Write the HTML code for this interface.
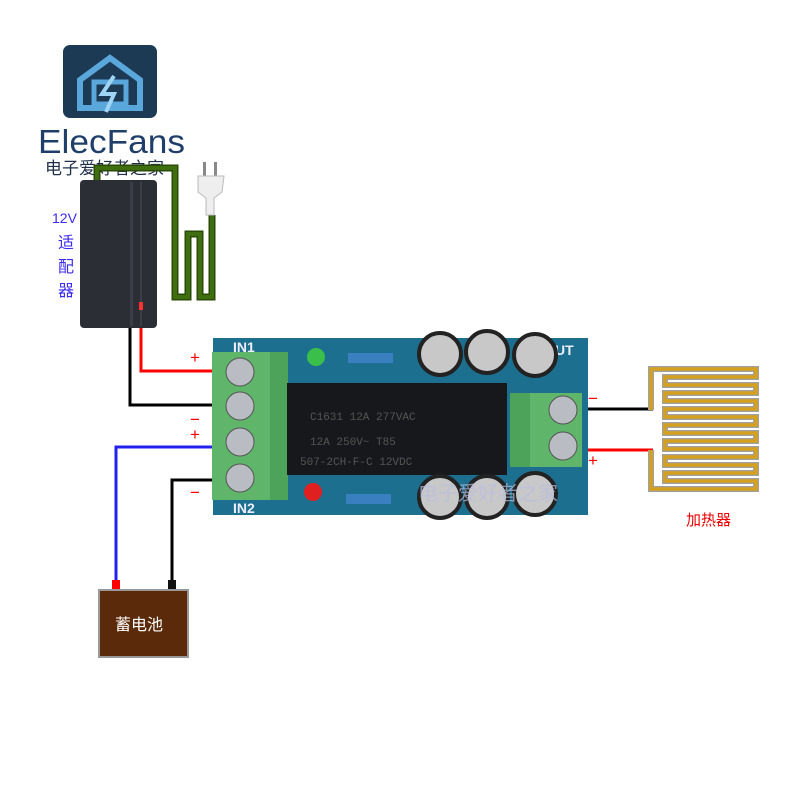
<!DOCTYPE html>
<html><head><meta charset="utf-8"><style>body{margin:0;background:#fff}svg{display:block}</style></head><body>
<svg width="800" height="800" xmlns="http://www.w3.org/2000/svg" font-family="Liberation Sans, Noto Sans CJK SC, sans-serif">
<rect width="800" height="800" fill="#fff"/>
<!-- logo -->
<rect x="63" y="45" width="94" height="73" rx="7" fill="#1d3a55"/>
<path d="M110 58 L140 80 L140 108 L80 108 L80 80 Z" fill="none" stroke="#5aa7dc" stroke-width="6"/>
<rect x="94" y="82" width="32" height="22" fill="none" stroke="#5aa7dc" stroke-width="5"/>
<path d="M114 76 L102 94 L114 94 L106 112" fill="none" stroke="#9fd4f5" stroke-width="4"/>
<text x="38" y="153" font-size="33" fill="#1f3f6a" textLength="147" lengthAdjust="spacingAndGlyphs">ElecFans</text>
<text x="45" y="174" font-size="17" fill="#1f2f4a">电子爱好者之家</text>
<!-- cord -->
<path d="M97 182 V168 H175 V297 H188 V234 H200 V297 H212 V215" fill="none" stroke="#2a4a08" stroke-width="7"/>
<path d="M97 182 V168 H175 V297 H188 V234 H200 V297 H212 V215" fill="none" stroke="#3e6e10" stroke-width="4"/>
<!-- plug -->
<rect x="203" y="162" width="3" height="16" fill="#888"/><rect x="214" y="162" width="3" height="16" fill="#888"/>
<path d="M198 176 H224 L222 192 L214 198 V215 H206 V198 L198 192 Z" fill="#eee" stroke="#bbb"/>
<!-- adapter -->
<rect x="80" y="180" width="77" height="148" rx="4" fill="#2b2e35"/>
<rect x="130" y="182" width="3" height="144" fill="#3a3e46"/><rect x="140" y="182" width="2" height="144" fill="#3a3e46"/>
<rect x="139" y="302" width="4" height="8" fill="#ff3030"/>
<text x="52" y="223" font-size="14" fill="#3a2aef">12V</text>
<text x="58" y="248" font-size="16" fill="#3a2aef">适</text>
<text x="58" y="272" font-size="16" fill="#3a2aef">配</text>
<text x="58" y="296" font-size="16" fill="#3a2aef">器</text>
<!-- wires -->
<path d="M141 328 V371 H214" fill="none" stroke="#f00" stroke-width="3"/>
<path d="M130 328 V405 H214" fill="none" stroke="#000" stroke-width="3"/>
<path d="M214 447 H116 V583" fill="none" stroke="#2222ee" stroke-width="3"/>
<path d="M214 480 H172 V583" fill="none" stroke="#000" stroke-width="3"/>
<path d="M580 409 H653" stroke="#000" stroke-width="3"/>
<path d="M580 450 H653" stroke="#f00" stroke-width="3"/>
<text x="190" y="363" font-size="17" fill="#f00">+</text>
<text x="190" y="425" font-size="17" fill="#f00">−</text>
<text x="190" y="440" font-size="17" fill="#f00">+</text>
<text x="190" y="498" font-size="17" fill="#f00">−</text>
<text x="588" y="404" font-size="17" fill="#f00">−</text>
<text x="588" y="466" font-size="17" fill="#f00">+</text>
<!-- battery -->
<rect x="112" y="580" width="8" height="10" fill="#f00"/><rect x="168" y="580" width="8" height="10" fill="#111"/>
<rect x="99" y="590" width="89" height="67" fill="#5b2a0b" stroke="#999" stroke-width="2"/>
<text x="115" y="630" font-size="16" fill="#fff">蓄电池</text>
<!-- board -->
<rect x="213" y="338" width="375" height="177" fill="#1c6f8e"/>
<text x="233" y="352" font-size="14" fill="#eef" font-weight="bold">IN1</text>
<text x="233" y="513" font-size="14" fill="#eef" font-weight="bold">IN2</text>
<text x="555" y="355" font-size="14" fill="#eef" font-weight="bold">UT</text>
<rect x="212" y="352" width="76" height="148" fill="#5fb56a"/>
<rect x="270" y="352" width="18" height="148" fill="#4ea35a"/>
<rect x="510" y="393" width="72" height="74" fill="#5fb56a"/>
<rect x="510" y="393" width="20" height="74" fill="#4ea35a"/>
<g fill="#b9bcc2" stroke="#555"><circle cx="240" cy="372" r="14"/><circle cx="240" cy="406" r="14"/><circle cx="240" cy="442" r="14"/><circle cx="240" cy="478" r="14"/><circle cx="563" cy="410" r="14"/><circle cx="563" cy="446" r="14"/></g>
<circle cx="316" cy="357" r="9" fill="#3ac04a"/><circle cx="313" cy="492" r="9" fill="#e02020"/>
<rect x="348" y="353" width="45" height="10" fill="#3a80c0"/><rect x="346" y="494" width="45" height="10" fill="#3a80c0"/>
<rect x="287" y="383" width="220" height="92" fill="#16181c"/>
<g font-size="11" fill="#555" font-family="Liberation Mono, monospace"><text x="310" y="420">C1631  12A 277VAC</text><text x="310" y="445">12A 250V~ T85</text><text x="300" y="465">507-2CH-F-C 12VDC</text></g>
<g fill="#c8c8c8" stroke="#222" stroke-width="4"><circle cx="440" cy="354" r="21"/><circle cx="487" cy="352" r="21"/><circle cx="535" cy="355" r="21"/><circle cx="440" cy="497" r="21"/><circle cx="487" cy="497" r="21"/><circle cx="535" cy="494" r="21"/></g>
<text x="418" y="500" font-size="20" fill="#b8bde0" opacity="0.7">电子爱好者之家</text>
<!-- heater -->
<path d="M651 410 V369 H756 V377 H665 V385 H756 V393 H665 V401 H756 V409 H665 V417 H756 V425 H665 V433 H756 V441 H665 V449 H756 V457 H665 V465 H756 V473 H665 V481 H756 V489 H651 V450" fill="none" stroke="#a0a0a0" stroke-width="6" stroke-linejoin="miter"/>
<path d="M651 410 V369 H756 V377 H665 V385 H756 V393 H665 V401 H756 V409 H665 V417 H756 V425 H665 V433 H756 V441 H665 V449 H756 V457 H665 V465 H756 V473 H665 V481 H756 V489 H651 V450" fill="none" stroke="#d4a020" stroke-width="3.5"/>
<text x="686" y="525" font-size="15" fill="#e00">加热器</text>
</svg>
</body></html>
